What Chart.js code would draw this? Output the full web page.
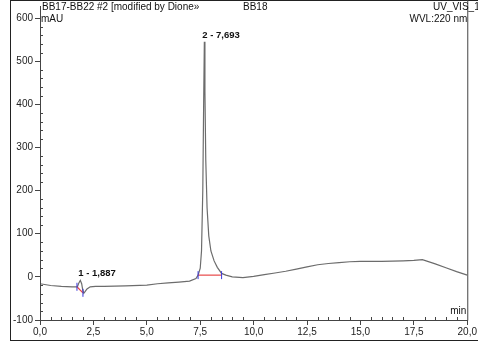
<!DOCTYPE html>
<html>
<head>
<meta charset="utf-8">
<script src="https://cdn.jsdelivr.net/npm/chart.js@4.4.0/dist/chart.umd.min.js"></script>
<style>
  html, body { margin: 0; padding: 0; background: #fff; }
  canvas { display: block; }
</style>
</head>
<body>
<canvas id="chrom" width="478" height="346"></canvas>
<script>
// Chromatogram trace (retention time in min, signal in mAU)
const times = [0.0, 0.5, 1.0, 1.5, 1.75, 1.82, 1.887, 1.95, 2.0, 2.05, 2.1, 2.2, 2.35, 2.6, 3.0, 4.0, 5.0, 5.5, 6.0, 6.5, 7.0, 7.3, 7.4, 7.5, 7.56, 7.62, 7.66, 7.693, 7.72, 7.76, 7.82, 7.9, 8.0, 8.15, 8.3, 8.5, 8.7, 9.0, 9.5, 10.0, 10.5, 11.0, 11.5, 12.0, 12.5, 13.0, 13.5, 14.0, 14.5, 15.0, 16.0, 17.0, 17.5, 17.9, 18.5, 19.0, 19.5, 20.0];
const mau = [-16, -20, -22, -23, -23, -14, -8, -16, -30, -38, -35, -28, -23, -22, -22, -21, -19, -16, -14, -12, -10, -4, 4, 20, 60, 200, 400, 545, 430, 270, 160, 95, 60, 37, 22, 8, 4, 0, -2, 1, 5, 9, 13, 18, 23, 28, 31, 33, 35, 36, 36, 37, 38, 40, 30, 21, 12, 4];

// Peak annotations
const peakTimes = [1.887, 7.693];
const peakValues = [-8, 545];
const peakLabels = ['1 - 1,887', '2 - 7,693'];

// Integration baselines (start / end of each peak)
const intStartTimes = [1.73, 7.40];
const intStartValues = [-23, 4];
const intEndTimes = [2.01, 8.50];
const intEndValues = [-37, 4];

// Axis ticks
const xMin = 0, xMax = 20, xStep = 2.5, xMinor = 0.5;
const yMin = -100, yMax = 600, yStep = 100, yMinor = 20;

const FONT = 'Liberation Sans, Arial, sans-serif';

const chromPlugin = {
    id: 'chromDecor',
    afterDraw(chart) {
        const ctx = chart.ctx;
        const xs = chart.scales.x;
        const ys = chart.scales.y;
        const area = chart.chartArea;

        ctx.save();
        // outer frame
        ctx.strokeStyle = '#222';
        ctx.lineWidth = 1;
        ctx.strokeRect(10.5, 0.5, 478, 340);

        // axes
        ctx.strokeStyle = '#444';
        ctx.beginPath();
        ctx.moveTo(area.left + 0.5, 6);
        ctx.lineTo(area.left + 0.5, area.bottom + 0.5);
        ctx.lineTo(area.right + 0.5, area.bottom + 0.5);
        ctx.moveTo(area.right + 0.5, 0);
        ctx.lineTo(area.right + 0.5, area.bottom + 0.5);
        ctx.stroke();

        // minor ticks
        ctx.beginPath();
        for (let v = yMin; v <= yMax; v += yMinor) {
            if (v % yStep === 0) continue;
            const py = Math.round(ys.getPixelForValue(v)) + 0.5;
            ctx.moveTo(area.left, py);
            ctx.lineTo(area.left + 3, py);
        }
        for (let v = xMin; v <= xMax + 1e-9; v += xMinor) {
            if (Math.abs(v / xStep - Math.round(v / xStep)) < 1e-6) continue;
            const px = Math.round(xs.getPixelForValue(v)) + 0.5;
            ctx.moveTo(px, area.bottom);
            ctx.lineTo(px, area.bottom - 3);
        }
        ctx.stroke();

        // integration baselines
        for (let i = 0; i < intStartTimes.length; i++) {
            const x1 = xs.getPixelForValue(intStartTimes[i]);
            const y1 = ys.getPixelForValue(intStartValues[i]);
            const x2 = xs.getPixelForValue(intEndTimes[i]);
            const y2 = ys.getPixelForValue(intEndValues[i]);
            ctx.strokeStyle = '#e84848';
            ctx.lineWidth = 1.2;
            ctx.beginPath();
            ctx.moveTo(x1, y1);
            ctx.lineTo(x2, y2);
            ctx.stroke();
            ctx.strokeStyle = '#3a3adc';
            ctx.lineWidth = 1;
            ctx.beginPath();
            ctx.moveTo(x1, y1 - 4);
            ctx.lineTo(x1, y1 + 4);
            ctx.moveTo(x2, y2 - 4);
            ctx.lineTo(x2, y2 + 4);
            ctx.stroke();
        }

        // peak labels
        ctx.fillStyle = '#111';
        ctx.font = 'bold 9.5px ' + FONT;
        ctx.textAlign = 'left';
        ctx.textBaseline = 'bottom';
        peakTimes.forEach((t, i) => {
            const px = xs.getPixelForValue(t);
            const py = ys.getPixelForValue(peakValues[i]);
            ctx.fillText(peakLabels[i], px - 2, py - 2);
        });

        // header texts
        ctx.font = '10px ' + FONT;
        ctx.fillStyle = '#111';
        ctx.textBaseline = 'middle';
        ctx.textAlign = 'left';
        ctx.fillText('BB17-BB22 #2 [modified by Dione\u00bb', area.left + 2, 7);
        ctx.fillText('BB18', 243, 7);
        ctx.fillText('UV_VIS_1', 433, 7);
        ctx.fillText('mAU', area.left + 1, 19);
        ctx.textAlign = 'right';
        ctx.fillText('WVL:220 nm', area.right, 19);
        ctx.fillText('min', area.right - 1, area.bottom - 9);
        ctx.restore();
    }
};

const ctx = document.getElementById('chrom').getContext('2d');
new Chart(ctx, {
    type: 'line',
    data: {
        datasets: [{
            data: times.map((t, i) => ({ x: t, y: mau[i] })),
            borderColor: '#6c6c6c',
            borderWidth: 1.2,
            pointRadius: 0,
            tension: 0,
            fill: false
        }]
    },
    options: {
        responsive: false,
        animation: false,
        events: [],
        layout: { padding: { top: 18, right: 8, left: 0, bottom: 0 } },
        plugins: { legend: { display: false }, tooltip: { enabled: false } },
        scales: {
            x: {
                type: 'linear',
                min: xMin,
                max: xMax,
                afterFit: s => { s.height = 26; },
                border: { display: false },
                grid: { drawOnChartArea: false, tickLength: 5, color: '#444' },
                ticks: {
                    stepSize: xStep,
                    autoSkip: false,
                    maxRotation: 0,
                    padding: 1,
                    color: '#222',
                    font: { family: FONT, size: 10 },
                    callback: v => v.toFixed(1).replace('.', ',')
                }
            },
            y: {
                type: 'linear',
                min: yMin,
                max: yMax,
                afterFit: s => { s.width = 40; },
                border: { display: false },
                grid: { drawOnChartArea: false, tickLength: 5, color: '#444' },
                ticks: {
                    stepSize: yStep,
                    padding: 2,
                    color: '#222',
                    font: { family: FONT, size: 10 }
                }
            }
        }
    },
    plugins: [chromPlugin]
});
</script>
</body>
</html>
